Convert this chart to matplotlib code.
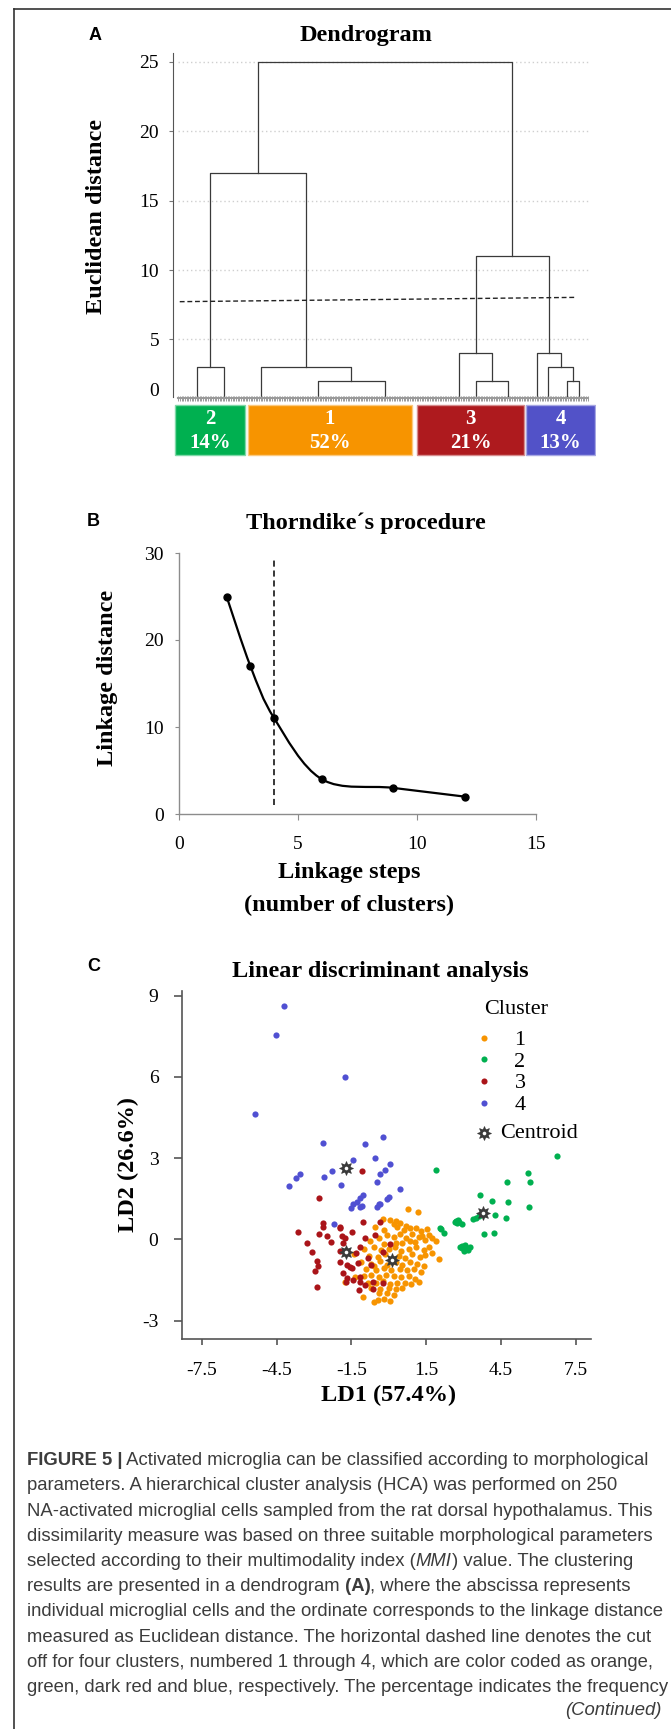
import numpy as np
import matplotlib.pyplot as plt
from matplotlib.lines import Line2D
from matplotlib.path import Path
from matplotlib.patches import PathPatch

W, H = 671, 1729
SERIF = ['Liberation Serif', 'DejaVu Serif']
SANS = ['Liberation Sans', 'DejaVu Sans']

# ---------------- panel A: dendrogram (x in leaf units, y = Euclidean distance)
n_leaves = 250
link_xl = [11.5, 85.4, 50.8, 19.95, 181.5, 171.4, 237.2, 225.5, 218.5, 181.4, 49.1]
link_xr = [28.4, 126.3, 105.8, 78.3, 201.3, 191.4, 244.3, 240.75, 233.1, 225.8, 203.6]
link_h = [3, 2, 3, 17, 2, 4, 2, 3, 4, 11, 25]
link_hl = [0, 0, 0, 3, 0, 0, 0, 0, 0, 4, 17]   # height of left child (0 = leaves)
link_hr = [0, 0, 2, 3, 0, 2, 0, 2, 3, 4, 11]
cut_x = [1.3, 242.2]
cut_y = [7.72, 8.03]

cluster_ids = ['2', '1', '3', '4']
cluster_pct = ['14%', '52%', '21%', '13%']
bar_left = [-1.3, 43.0, 145.8, 212.0]
bar_right = [41.1, 142.4, 210.7, 254.2]
bar_colors = ['#00B050', '#F79400', '#AE1A1E', '#5252C8']
bar_edges = ['#7fd8a7', '#fbc97f', '#d68c8e', '#a8a8e3']

# ---------------- panel B: Thorndike
steps = [2, 3, 4, 6, 9, 12]
linkage = [25, 17, 11, 4, 3, 2]
cut_step = 4

# ---------------- panel C: LDA scores
c1_x = [0.76, 1.16, -0.23, 0.05, 0.28, 0.22, 0.45, 0.87, 1.1, 1.54, -0.21, 0.6, 0.35, 0.68, 1.3, -0.55,
        1.35, 1.2, 1.6, 1.45, 0.95, 0.7, 0.45, 0.2, -0.05, -0.4, -0.75, 1.75, 1.05, 0.3, 0.55, -0.2, 0.85, 1.9,
        -1.0, -0.6, -0.3, 0.0, 0.25, 0.5, 0.8, 1.1, 1.4, 1.6, -1.4, -0.8, -0.45, -0.15, 0.4, 0.65, 0.95, 1.25,
        1.47, 2.02, 1.75,
        -1.1, -0.7, -0.35, -0.05, 0.3, 0.55, 0.85, 1.15, 1.4, -0.9, -0.5, -0.2, 0.1, 0.45, 0.75, 1.0, 1.3, 0.2,
        -0.6,
        -1.35, -1.0, -0.7, -0.4, -0.1, 0.2, 0.5, 0.8, 1.05, 1.21, -1.76, -0.85, -0.5, -0.25, 0.05, 0.35, 0.65,
        0.9,
        -0.7, -0.35, 0.0, 0.3, 0.55, -1.03, -0.39, -0.6, -0.2, 0.04, 0.2, -0.05, -0.45]
c1_y = [1.11, 1.02, 0.74, 0.72, 0.68, 0.55, 0.6, 0.42, 0.41, 0.37, 0.34, 0.34, 0.45, 0.5, 0.3, 0.45,
        0.12, 0.08, 0.15, -0.02, 0.18, 0.05, 0.2, 0.1, 0.15, 0.05, -0.05, 0.05, -0.1, -0.12, -0.15, -0.18, -0.08,
        -0.05,
        -0.35, -0.3, -0.4, -0.35, -0.3, -0.42, -0.35, -0.3, -0.4, -0.27, -0.55, -0.6, -0.65, -0.55, -0.6, -0.68,
        -0.55, -0.65, -0.58, -0.74, -0.5,
        -0.85, -0.9, -0.8, -0.95, -0.85, -0.95, -0.85, -0.9, -1.0, -1.1, -1.15, -1.05, -1.15, -1.1, -1.15, -1.1,
        -1.2, -0.72, -1.0,
        -1.4, -1.35, -1.3, -1.4, -1.3, -1.35, -1.4, -1.35, -1.45, -1.56, -1.56, -1.6, -1.6, -1.55, -1.65, -1.6,
        -1.6, -1.65,
        -1.8, -1.85, -1.8, -1.85, -1.8, -2.12, -1.99, -2.3, -2.2, -2.28, -2.05, -2.0, -2.25]
c2_x = [6.77, 1.90, 5.59, 5.68, 4.73, 3.68, 4.16, 4.80, 5.62, 4.25, 4.71, 3.39, 2.70, 2.82, 2.93, 2.75,
        2.07, 2.22, 3.82, 4.21, 2.96, 3.13, 3.04, 3.27, 2.93, 3.61, 3.05, 2.78, 3.2, 2.88, 2.65, 3.5, 2.1]
c2_y = [3.08, 2.56, 2.44, 2.13, 2.12, 1.63, 1.40, 1.37, 1.18, 0.89, 0.80, 0.74, 0.69, 0.65, 0.57, 0.62,
        0.41, 0.25, 0.18, 0.22, -0.25, -0.33, -0.42, -0.30, -0.33, 0.86, -0.20, 0.70, -0.38, -0.28, 0.64, 0.8,
        0.38]
c3_x = [-1.06, -2.78, -2.62, -1.03, -0.37, -3.65, -2.78, -2.49, -1.94, -1.47, -1.76, -1.85, -2.33, -3.29,
        -0.94, -1.16, -0.56, -3.09, -1.97, -1.33, -0.82, -0.22, 0.07, -2.88, -1.94, -1.25, -2.85, -1.56, -2.97,
        -1.85, -1.68, -1.16, -1.42, -0.65, -2.88, -1.20, -0.65, -0.22, -0.94, -0.73, -2.64, -1.97, -1.88,
        -1.68, -1.48, -1.7, -1.14]
c3_y = [2.52, 1.54, 0.62, 0.65, 0.65, 0.28, 0.18, 0.12, 0.43, 0.26, 0.04, -0.15, -0.11, -0.12, 0.04,
        -0.27, 0.16, -0.48, -0.43, -0.52, -0.70, -0.46, -0.18, -0.79, -0.83, -0.89, -0.99, -1.01, -1.16, -1.26,
        -1.44, -1.38, -1.50, -1.56, -1.75, -1.87, -1.83, -1.63, -1.69, -0.95, 0.47, 0.47, 0.13, -0.95, -1.07,
        -1.57, -1.57]
c4_x = [-4.22, -4.53, -1.76, -5.36, -2.64, -0.96, -0.22, -1.44, -0.54, 0.04, -2.26, -0.17, -3.57, -3.71,
        -2.59, -0.36, -0.48, -4.0, -1.90, 0.45, -1.03, 0.01, -1.16, -1.28, -0.39, -1.51, -0.48, -2.19, -1.17,
        -1.45, -0.07, -0.34, -1.07]
c4_y = [8.60, 7.55, 6.01, 4.63, 3.55, 3.51, 3.77, 2.94, 3.02, 2.77, 2.52, 2.56, 2.41, 2.28, 2.29, 2.41,
        2.13, 1.97, 2.01, 1.85, 1.65, 1.58, 1.54, 1.37, 1.31, 1.15, 1.21, 0.55, 1.20, 1.30, 1.50, 1.29, 1.23]
centroid_x = [0.13, 3.79, -1.71, -1.71]
centroid_y = [-0.76, 0.96, -0.46, 2.62]
scatter_colors = ['#F79400', '#00B050', '#AA1419', '#5050D2']

caption = [
    [('FIGURE 5 |', 'bold', 'normal'),
     (' Activated microglia can be classified according to morphological', 'normal', 'normal')],
    [('parameters. A hierarchical cluster analysis (HCA) was performed on 250', 'normal', 'normal')],
    [('NA-activated microglial cells sampled from the rat dorsal hypothalamus. This', 'normal', 'normal')],
    [('dissimilarity measure was based on three suitable morphological parameters', 'normal', 'normal')],
    [('selected according to their multimodality index (', 'normal', 'normal'), ('MMI', 'normal', 'italic'),
     (') value. The clustering', 'normal', 'normal')],
    [('results are presented in a dendrogram', 'normal', 'normal'), (' (A)', 'bold', 'normal'),
     (', where the abscissa represents', 'normal', 'normal')],
    [('individual microglial cells and the ordinate corresponds to the linkage distance', 'normal', 'normal')],
    [('measured as Euclidean distance. The horizontal dashed line denotes the cut', 'normal', 'normal')],
    [('off for four clusters, numbered 1 through 4, which are color coded as orange,', 'normal', 'normal')],
    [('green, dark red and blue, respectively. The percentage indicates the frequency', 'normal', 'normal')],
]


def box(l, t, r, b):
    return [l / W, 1 - b / H, (r - l) / W, (b - t) / H]


fig = plt.figure(figsize=(W / 100, H / 100), dpi=100)
fig.patch.set_facecolor('white')


def ftext(x, y, s, **kw):
    return fig.text(x / W, 1 - y / H, s, **kw)


def centroid_marks(x, y, **kw):
    # dark gear with a white hole
    out = []
    out.append(Line2D(x, y, ls='none', marker='o', ms=6.5, color='#3a3a3a', mew=0, **kw))
    out.append(Line2D(x, y, ls='none', marker=(8, 1, 0), ms=10, color='#3a3a3a', mew=0.6, **kw))
    out.append(Line2D(x, y, ls='none', marker='o', ms=2.6, color='white', mew=0, **kw))
    return out


# page frame (top and left rules)
fig.add_artist(Line2D([14 / W, 1], [1 - 8.5 / H, 1 - 8.5 / H], color='#333333', lw=1.2))
fig.add_artist(Line2D([14 / W, 14 / W], [0, 1 - 8.5 / H], color='#333333', lw=1.2))

# ======================= A
axA = fig.add_axes(box(173, 50.9, 596, 457.3))
axA.set_xlim(-2.8, 254.6)
axA.set_ylim(-3.5, 25.8)
base = 0.85
axA.hlines([5, 10, 15, 20, 25], 0, n_leaves, colors='#cfcfcf', linestyles=(0, (1, 2)), lw=1, zorder=0)
for xl, xr, h, hl, hr in zip(link_xl, link_xr, link_h, link_hl, link_hr):
    axA.plot([xl, xl, xr, xr], [max(hl, base), h, h, max(hr, base)], color='#3a3a3a', lw=0.9)
leaf_x = np.arange(n_leaves) + 0.5
axA.vlines(leaf_x, base - 0.3, base + 0.1, color='#8a8a8a', lw=0.6)
axA.plot([0, n_leaves], [base - 0.1, base - 0.1], color='#9a9a9a', lw=1.5)
axA.plot(cut_x, cut_y, color='#222222', lw=1.0, ls=(0, (3.5, 2)))

for l, r, c, ec, cid, pct in zip(bar_left, bar_right, bar_colors, bar_edges, cluster_ids, cluster_pct):
    axA.bar(l, 3.6, width=r - l, bottom=-3.33, align='edge', color=c, edgecolor=ec, lw=1.0)
    axA.text((l + r) / 2, -0.75, cid, ha='center', va='center', color='white', fontsize=15,
             fontweight='bold', family=SERIF)
    axA.text((l + r) / 2, -2.45, pct, ha='center', va='center', color='white', fontsize=15,
             fontweight='bold', family=SERIF)

for s in ['top', 'right', 'bottom']:
    axA.spines[s].set_visible(False)
axA.spines['left'].set_bounds(base, 25.65)
axA.spines['left'].set_color('#555555')
axA.set_xticks([])
axA.set_yticks([1.4, 5, 10, 15, 20, 25], ['0', '5', '10', '15', '20', '25'])
axA.tick_params(axis='y', length=3, width=0.8, color='#777777', pad=7, labelsize=14)
axA.yaxis.get_major_ticks()[0].tick1line.set_visible(False)
for t in axA.get_yticklabels():
    t.set_family(SERIF)
ftext(96, 217, 'Euclidean distance', rotation=90, ha='center', va='center', fontsize=17.5,
      fontweight='bold', family=SERIF)
ftext(366, 35, 'Dendrogram', ha='center', va='center', fontsize=17.5, fontweight='bold', family=SERIF)
ftext(95, 36, 'A', ha='center', va='center', fontsize=13, fontweight='bold', family=SANS)

# ======================= B
axB = fig.add_axes(box(179, 553, 536, 814))
axB.set_xlim(0, 15)
axB.set_ylim(0, 30)
pts = np.column_stack([steps, linkage]).astype(float)
verts, codes = [pts[0]], [Path.MOVETO]
for i in range(len(pts) - 1):
    p0, p1 = pts[max(i - 1, 0)], pts[i]
    p2, p3 = pts[i + 1], pts[min(i + 2, len(pts) - 1)]
    verts += [p1 + (p2 - p0) / 6, p2 - (p3 - p1) / 6, p2]
    codes += [Path.CURVE4] * 3
axB.add_patch(PathPatch(Path(verts, codes), fill=False, edgecolor='black', lw=1.6))
axB.plot(steps, linkage, 'o', color='black', ms=5)
axB.plot([cut_step, cut_step], [1.0, 29.2], color='black', lw=1.1, ls=(0, (4, 2.5)))
for s in ['top', 'right']:
    axB.spines[s].set_visible(False)
for s in ['left', 'bottom']:
    axB.spines[s].set_color('#8c8c8c')
    axB.spines[s].set_linewidth(1.0)
axB.set_xticks([0, 5, 10, 15])
axB.set_yticks([0, 10, 20, 30])
axB.tick_params(axis='x', length=4.5, color='#8c8c8c', pad=11, labelsize=14)
axB.tick_params(axis='y', length=3, color='#8c8c8c', pad=8, labelsize=14)
for t in axB.get_xticklabels() + axB.get_yticklabels():
    t.set_family(SERIF)
ftext(107, 678, 'Linkage distance', rotation=90, ha='center', va='center', fontsize=17.5,
      fontweight='bold', family=SERIF)
ftext(349, 873, 'Linkage steps', ha='center', va='center', fontsize=17.5, fontweight='bold', family=SERIF)
ftext(349, 905, '(number of clusters)', ha='center', va='center', fontsize=17.5, fontweight='bold',
      family=SERIF)
ftext(366, 523, 'Thorndike\u00b4s procedure', ha='center', va='center', fontsize=17.5, fontweight='bold',
      family=SERIF)
ftext(93, 522, 'B', ha='center', va='center', fontsize=13, fontweight='bold', family=SANS)

# ======================= C
axC = fig.add_axes(box(182, 990.7, 590.5, 1339))
axC.set_xlim(-8.3, 8.1)
axC.set_ylim(-3.68, 9.18)
for xs, ys, c in zip([c1_x, c2_x, c3_x, c4_x], [c1_y, c2_y, c3_y, c4_y], scatter_colors):
    axC.scatter(xs, ys, s=20, color=c, lw=0)
for ln in centroid_marks(centroid_x, centroid_y):
    axC.add_line(ln)
for s in ['top', 'right']:
    axC.spines[s].set_visible(False)
for s in ['left', 'bottom']:
    axC.spines[s].set_color('#555555')
    axC.spines[s].set_linewidth(1.2)
axC.set_xticks([-7.5, -4.5, -1.5, 1.5, 4.5, 7.5], ['-7.5', '-4.5', '-1.5', '1.5', '4.5', '7.5'])
axC.set_yticks([-3, 0, 3, 6, 9], ['-3', '0', '3', '6', '9'])
axC.tick_params(axis='x', length=4.5, width=1.2, color='#555555', pad=12, labelsize=14)
axC.tick_params(axis='y', length=6, width=1.2, color='#555555', pad=11, labelsize=14)
for t in axC.get_xticklabels() + axC.get_yticklabels():
    t.set_family(SERIF)
ftext(128, 1165, 'LD2 (26.6%)', rotation=90, ha='center', va='center', fontsize=17.5, fontweight='bold',
      family=SERIF)
ftext(389, 1395, 'LD1 (57.4%)', ha='center', va='center', fontsize=17.5, fontweight='bold', family=SERIF)
ftext(380, 971, 'Linear discriminant analysis', ha='center', va='center', fontsize=17.5, fontweight='bold',
      family=SERIF)
ftext(94, 966, 'C', ha='center', va='center', fontsize=13, fontweight='bold', family=SANS)

# legend
ftext(516, 1009, 'Cluster', ha='center', va='center', fontsize=16, family=SERIF)
for i, c in enumerate(scatter_colors):
    y = 1037.7 + 21.6 * i
    fig.add_artist(Line2D([484 / W], [1 - y / H], marker='o', ms=4.4, color=c, ls='none', mew=0))
    ftext(520, y + 3, str(i + 1), ha='center', va='center', fontsize=16, family=SERIF)
for ln in centroid_marks([484 / W], [1 - 1133 / H], transform=fig.transFigure):
    fig.add_artist(ln)
ftext(500, 1133, 'Centroid', ha='left', va='center', fontsize=16, family=SERIF)

# ======================= caption
axT = fig.add_axes([0, 0, 1, 1])
axT.axis('off')
axT.set_xlim(0, W)
axT.set_ylim(H, 0)
for i, parts in enumerate(caption):
    yb = 1465 + 25.25 * i
    prev = None
    for s, w, st in parts:
        kw = dict(fontsize=13.3, family=SANS, fontweight=w, fontstyle=st, color='#3c3c3c')
        if prev is None:
            prev = axT.text(27, yb, s, ha='left', va='baseline', **kw)
        else:
            prev = axT.annotate(s, xy=(1, 0), xycoords=prev, ha='left', va='bottom', **kw)
axT.text(662, 1715, '(Continued)', ha='right', va='baseline', fontsize=13.3, family=SANS,
         fontstyle='italic', color='#3c3c3c')

fig.savefig('out.png', dpi=100, facecolor='white')
